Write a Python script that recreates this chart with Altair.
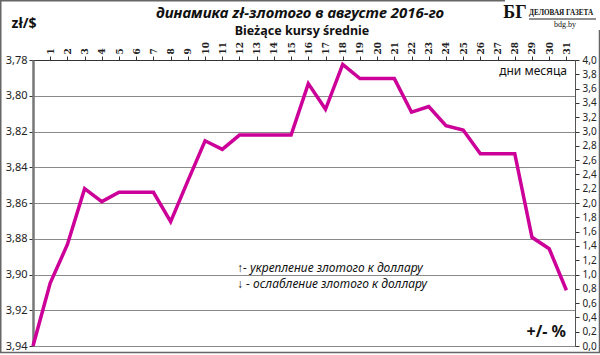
import altair as alt
import pandas as pd

# ---- data ----
days = list(range(0, 32))
pct_change = [0.0, 0.88, 1.42, 2.20, 2.02, 2.15, 2.15, 2.15, 1.74, 2.31,
              2.87, 2.75, 2.95, 2.95, 2.95, 2.95, 3.67, 3.31, 3.94, 3.74,
              3.74, 3.74, 3.27, 3.35, 3.08, 3.02, 2.69, 2.69, 2.69, 1.52,
              1.36, 0.78]
day_labels = list(range(1, 32))
rate_ticks = [3.78, 3.80, 3.82, 3.84, 3.86, 3.88, 3.90, 3.92, 3.94]
pct_ticks = [round(i * 0.2, 1) for i in range(0, 21)]

W, H = 542, 286
PL, PT = 33, 60
FONT = "Noto Sans"
MAGENTA = "#CC0099"

df = pd.DataFrame({"day": days, "pct": pct_change})
rates = pd.DataFrame({"rate": rate_ticks})

x_enc = alt.X(
    "day:Q",
    scale=alt.Scale(domain=[0, 31.5], nice=False, zero=False),
    axis=alt.Axis(
        orient="top", values=day_labels, labelAngle=-90, title=None, grid=False,
        labelFont="DejaVu Serif", labelFontWeight="bold", labelFontSize=9,
        labelColor="#222", domainColor="#333", domainWidth=1.2,
        tickColor="#333", tickSize=4, labelPadding=2, labelFlush=False,
    ),
)

left_layer = alt.Chart(rates).mark_point(opacity=0).encode(
    x=alt.value(0),
    y=alt.Y(
        "rate:Q",
        scale=alt.Scale(domain=[3.78, 3.94], reverse=True, nice=False, zero=False),
        axis=alt.Axis(
            orient="left", values=rate_ticks, title=None, grid=True,
            gridColor="#8a8a8a", gridWidth=1,
            labelExpr="replace(format(datum.value, '.2f'), '.', ',')",
            labelFont=FONT, labelFontSize=11, labelColor="#222",
            domainColor="#777", domainWidth=2.5, tickColor="#333", tickSize=4,
            labelPadding=2,
        ),
    ),
)

line_layer = alt.Chart(df).mark_line(color=MAGENTA, strokeWidth=3.5, strokeJoin="miter").encode(
    x=x_enc,
    y=alt.Y(
        "pct:Q",
        scale=alt.Scale(domain=[0, 4], nice=False, zero=False),
        axis=alt.Axis(
            orient="right", values=pct_ticks, title=None, grid=False,
            labelExpr="replace(format(datum.value, '.1f'), '.', ',')",
            labelFont=FONT, labelFontSize=10, labelColor="#222",
            domainColor="#555", domainWidth=1, tickColor="#333", tickSize=4,
            labelPadding=3,
        ),
    ),
)


def txt(text, px, py, size, weight="normal", style="normal", align="center",
        font=FONT, color="#111"):
    return alt.Chart(pd.DataFrame({"t": [text]})).mark_text(
        fontSize=size, fontWeight=weight, fontStyle=style, align=align,
        baseline="middle", font=font, color=color,
    ).encode(text="t:N", x=alt.value(px - PL), y=alt.value(py - PT))


frame = alt.Chart(pd.DataFrame({"f": [0]})).mark_rect(
    fill=None, stroke="#666", strokeWidth=1.5
).encode(
    x=alt.value(0.75 - PL), x2=alt.value(599.5 - PL),
    y=alt.value(0.75 - PT), y2=alt.value(352.5 - PT),
)
logo_bg = alt.Chart(pd.DataFrame({"f": [0]})).mark_rect(fill="white").encode(
    x=alt.value(505 - PL), x2=alt.value(601 - PL),
    y=alt.value(-1 - PT), y2=alt.value(30 - PT),
)
underline = alt.Chart(pd.DataFrame({"f": [0]})).mark_rule(color="#222", strokeWidth=1).encode(
    x=alt.value(529 - PL), x2=alt.value(596 - PL), y=alt.value(19 - PT),
)

texts = [
    txt("динамика zł-злотого в августе 2016-го", 300, 13, 15, "bold", "italic"),
    txt("Bieżące kursy średnie", 302, 31, 12.5, "bold"),
    txt("zł/$", 24, 24, 14, "bold"),
    txt("БГ", 515, 13, 18, "bold", font="Liberation Serif"),
    txt("ДЕЛОВАЯ ГАЗЕТА", 529, 13, 7.2, "bold", align="left", font="Liberation Serif"),
    txt("bdg.by", 565, 25, 8, font="Liberation Serif"),
    txt("дни месяца", 567, 71, 12, align="right"),
    txt("+/- %", 566, 332, 16, "bold", align="right"),
    txt("↑- укрепление злотого к доллару", 237, 268, 12, style="italic", align="left"),
    txt("↓ - ослабление злотого к доллару", 237, 284, 12, style="italic", align="left"),
]

chart = alt.layer(
    left_layer, line_layer, frame, logo_bg, underline, *texts
).resolve_scale(y="independent").properties(
    width=W, height=H,
    autosize=alt.AutoSizeParams(type="none"),
    padding={"left": PL, "top": PT, "right": 600 - PL - W, "bottom": 355 - PT - H},
    background="white",
).configure_view(stroke="#8a8a8a", strokeWidth=1)

chart.save("out.html", embed_options={"renderer": "svg", "actions": False})
